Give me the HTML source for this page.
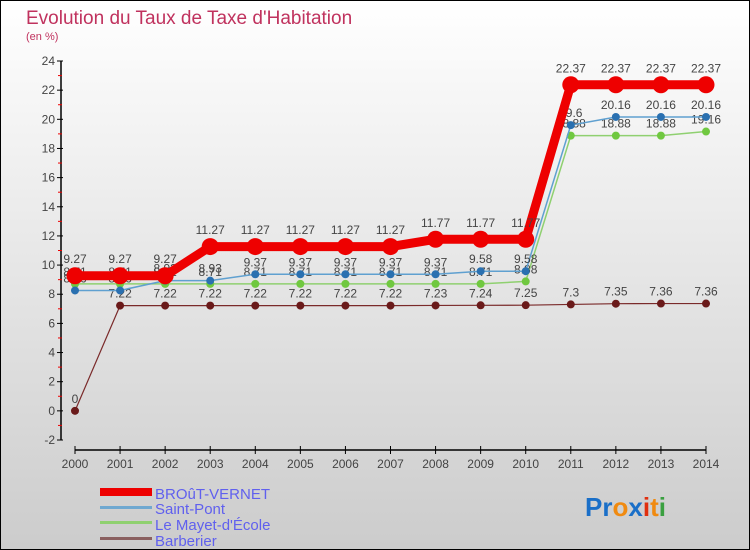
<!DOCTYPE html>
<html><head><meta charset="utf-8"><style>
html,body{margin:0;padding:0}
body{width:750px;height:550px;overflow:hidden;font-family:"Liberation Sans",sans-serif}
svg{display:block}
</style></head><body>
<svg width="750" height="550" viewBox="0 0 750 550" xmlns="http://www.w3.org/2000/svg" font-family="Liberation Sans, sans-serif">
<defs><linearGradient id="bg" x1="0" y1="0" x2="0" y2="1"><stop offset="0" stop-color="#ffffff"/><stop offset="1" stop-color="#cccccc"/></linearGradient></defs>
<rect x="0.5" y="0.5" width="749" height="549" fill="url(#bg)" stroke="#000"/>
<text x="26" y="24" font-size="19" fill="#c0325e">Evolution du Taux de Taxe d'Habitation</text>
<text x="26" y="40" font-size="11" fill="#c0325e">(en %)</text>
<g id="axes"></g>
<g id="series"></g>
<g>
<rect x="100" y="488" width="52" height="8" fill="#ee0000"/>
<rect x="100" y="506" width="52" height="3" fill="#6fa8d0"/>
<rect x="100" y="521" width="52" height="3" fill="#8fd070"/>
<rect x="100" y="537" width="52" height="3" fill="#8a6060"/>
<text x="155" y="499" font-size="15" fill="#6060ee">BROûT-VERNET</text>
<text x="155" y="514" font-size="15" fill="#6060ee">Saint-Pont</text>
<text x="155" y="530" font-size="15" fill="#6060ee">Le Mayet-d'École</text>
<text x="155" y="546" font-size="15" fill="#6060ee">Barberier</text>
</g>
<text x="585" y="516" font-size="26" font-weight="bold"><tspan fill="#1a6fc8">Pr</tspan><tspan fill="#f08a10">o</tspan><tspan fill="#1a6fc8">x</tspan><tspan fill="#e03010">i</tspan><tspan fill="#f08a10">t</tspan><tspan fill="#3aa040">i</tspan></text>
</svg>
<script>
const years=[2000,2001,2002,2003,2004,2005,2006,2007,2008,2009,2010,2011,2012,2013,2014];
const brout=[9.27,9.27,9.27,11.27,11.27,11.27,11.27,11.27,11.77,11.77,11.77,22.37,22.37,22.37,22.37];
const saintPont=[8.26,8.26,8.93,8.93,9.37,9.37,9.37,9.37,9.37,9.58,9.58,19.6,20.16,20.16,20.16];
const mayet=[8.71,8.71,8.71,8.71,8.71,8.71,8.71,8.71,8.71,8.71,8.88,18.88,18.88,18.88,19.16];
const barberier=[0,7.22,7.22,7.22,7.22,7.22,7.22,7.22,7.23,7.24,7.25,7.3,7.35,7.36,7.36];
const yTicks=[-2,0,2,4,6,8,10,12,14,16,18,20,22,24];
const NS='http://www.w3.org/2000/svg';
const X=i=>75+i*(706-75)/14;
const Y=v=>440-(v+2)*(440-61)/26;
function mk(t,a,p){const e=document.createElementNS(NS,t);for(const k in a)e.setAttribute(k,a[k]);p.appendChild(e);return e;}
const ax=document.getElementById('axes');
mk('line',{x1:61,y1:61,x2:61,y2:440,stroke:'#000','stroke-width':1.5},ax);
mk('line',{x1:75,y1:450,x2:706,y2:450,stroke:'#000','stroke-width':1.5},ax);
yTicks.forEach(v=>{
  mk('line',{x1:57,y1:Y(v),x2:63,y2:Y(v),stroke:'#000'},ax);
  if(v<24)mk('line',{x1:58,y1:Y(v+1),x2:62,y2:Y(v+1),stroke:'#e00'},ax);
  const t=mk('text',{x:55,y:Y(v)+4,'font-size':12,fill:'#444','text-anchor':'end'},ax);
  
  
  t.textContent=v;
});
years.forEach((yr,i)=>{
  mk('line',{x1:X(i),y1:446,x2:X(i),y2:454,stroke:'#000'},ax);
  const t=mk('text',{x:X(i),y:468,'font-size':12,fill:'#444','text-anchor':'middle'},ax);
  
  
  t.textContent=yr;
});
const sg=document.getElementById('series');
const series=[
 {name:'barberier',d:barberier,c:'#7a2a2a',p:'#6a1a1a',w:1.2,r:4},
 {name:'le-mayet',d:mayet,c:'#8fd070',p:'#70c840',w:1.5,r:4},
 {name:'saint-pont',d:saintPont,c:'#5fa0d0',p:'#2a70b0',w:1.5,r:4},
 {name:'brout-vernet',d:brout,c:'#ee0000',p:'#ee0000',w:9,r:8.5}
];
series.forEach(s=>{
  const g=mk('g',{},sg);
  
  
  mk('polyline',{points:s.d.map((v,i)=>X(i)+','+Y(v)).join(' '),fill:'none',stroke:s.c,'stroke-width':s.w},g);
  s.d.forEach((v,i)=>{
    const c=mk('circle',{cx:X(i),cy:Y(v),r:s.r,fill:s.p},g);
    
    
    const t=mk('text',{x:X(i),y:Y(v)-(s.r+4),'font-size':12,fill:'#444','text-anchor':'middle'},g);
    
    
    t.textContent=v;
  });
});
</script>
</body></html>
